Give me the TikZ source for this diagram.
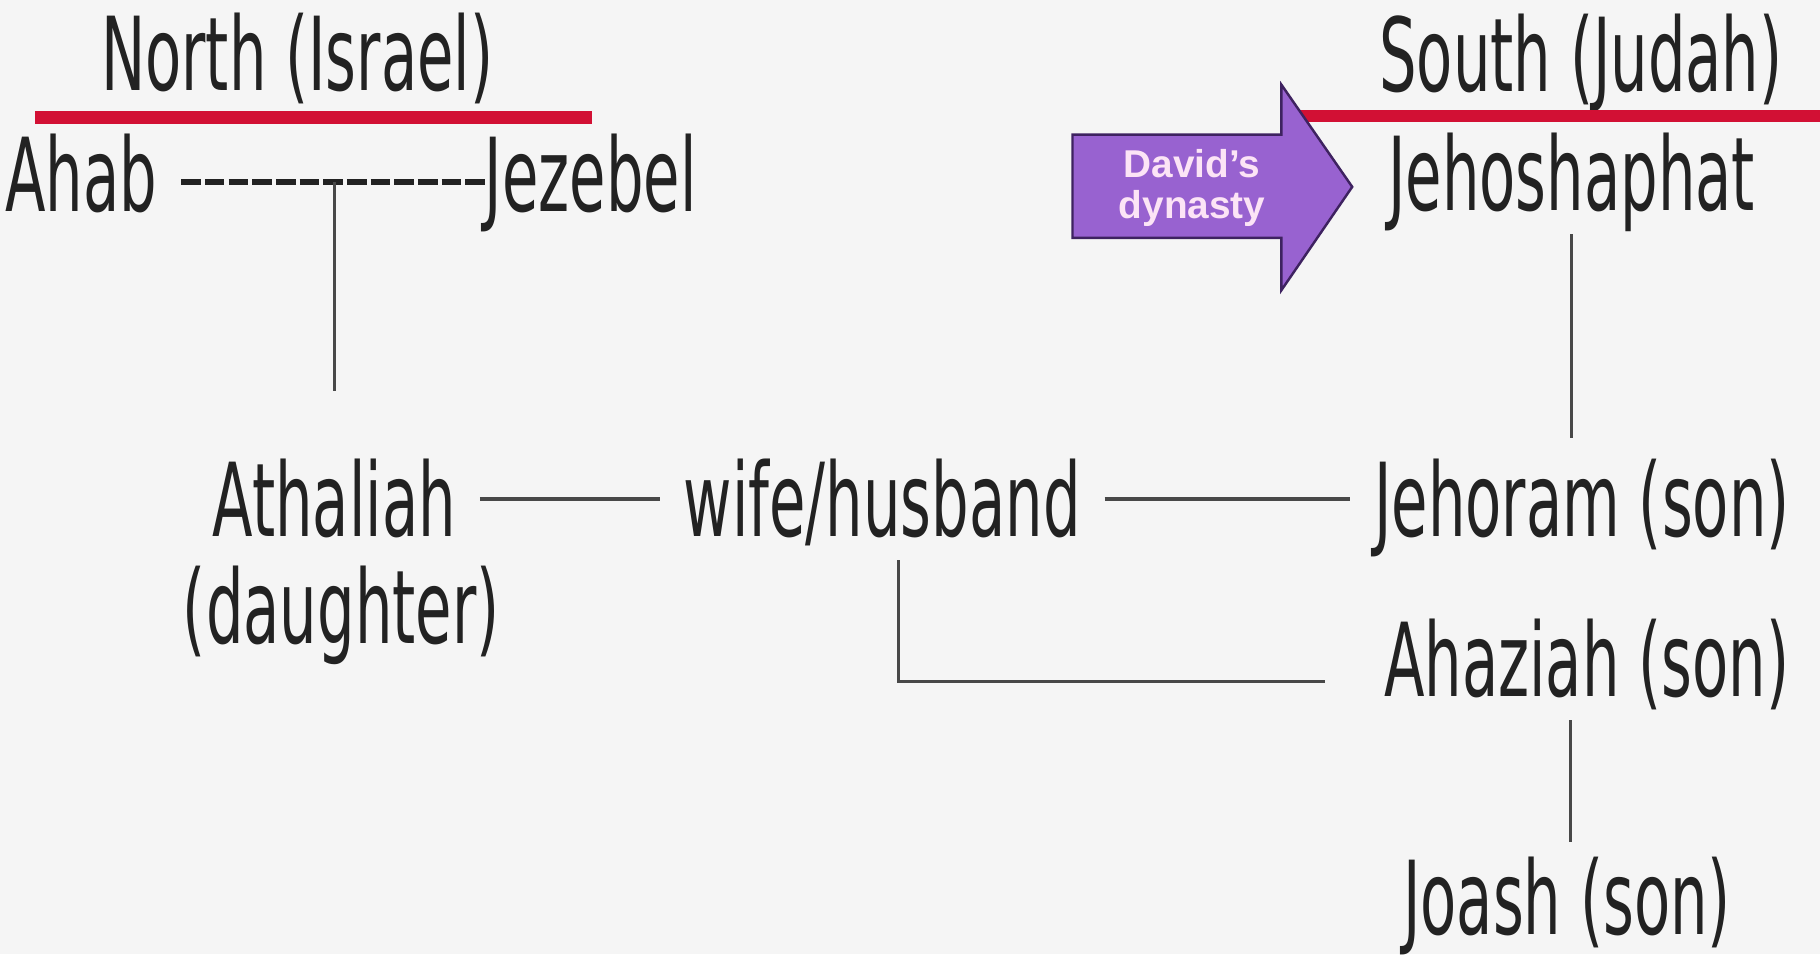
\documentclass[tikz,border=0pt]{standalone}
\usepackage{fontspec}
\setmainfont{DejaVu Sans}[FakeStretch=0.58]
\newfontfamily\arrowfont{Liberation Sans}
\definecolor{ink}{RGB}{34,34,34}
\definecolor{wire}{RGB}{72,72,72}
\definecolor{rulered}{RGB}{210,16,52}
\definecolor{dyn}{RGB}{152,98,208}
\definecolor{dynline}{RGB}{62,34,96}
\definecolor{dyntext}{RGB}{252,228,246}
\definecolor{paper}{RGB}{245,245,245}

\begin{document}
\begin{tikzpicture}[x=0.01cm, y=-0.01cm,
  who/.style={font=\fontsize{25}{30}\selectfont, text=ink, inner sep=0.2cm, text height=18.2pt, text depth=0pt, anchor=base},
  kin/.style={draw=wire, line width=0.8pt},
  wed/.style={draw=ink, line width=1.4pt, dash pattern=on 4.8pt off 1pt},
  redrule/.style={draw=rulered, line width=3.1pt}]
  \useasboundingbox (0,0) rectangle (1568,822);
  \fill[paper] (0,0) rectangle (1568,822);

  \node[who] (north) at (256,78) {North (Israel)};
  \node[who] (south) at (1362,79) {South (Judah)};
  \draw[redrule] (30,101) -- (510,101);
  \draw[redrule] (1110,100) -- (1568,100);

  \draw[fill=dyn, draw=dynline, line width=0.6pt] (924,116) -- (1104,116) -- (1104,73) -- (1165,161)
    -- (1104,250) -- (1104,205) -- (924,205) -- cycle;
  \node[font=\arrowfont\bfseries\fontsize{9.5}{10.2}\selectfont, text=dyntext, align=center] (dav) at (1027,162) {David’s\\dynasty};

  \node[who] (ahab) at (70,182) {Ahab};
  \node[who] (jez) at (509,182) {Jezebel};
  \node[who] (jehosh) at (1354,181) {Jehoshaphat};
  \node[who] (ath) at (288,462) {Athaliah};
  \node[who] (dau) at (294,554) {(daughter)};
  \node[who] (wife) at (760,462) {wife/husband};
  \node[who] (jehoram) at (1363,462) {Jehoram (son)};
  \node[who] (ahaziah) at (1367,600) {Ahaziah (son)};
  \node[who] (joash) at (1350,805) {Joash (son)};

  \draw[wed] ([yshift=-0.07cm]ahab.east) -- ([yshift=-0.07cm]ahab.east -| jez.text);
  \coordinate (tee) at ([yshift=-0.07cm]ahab.east -| ath.north);
  \draw[kin, shorten >=0.4cm] (tee) -- (tee |- ath.north);
  \draw[kin] (ath.east) -- (wife.west);
  \draw[kin] (wife.east) -- (jehoram.west);
  \draw[kin, shorten >=0.3cm] ([xshift=0.14cm]wife.south) |- ([yshift=-0.19cm]ahaziah.west);
  \draw[kin] (jehosh.south) -- (jehosh.south |- jehoram.north);
  \draw[kin, shorten >=-0.05cm] ([xshift=0.03cm]joash.north |- ahaziah.south) -- ([xshift=0.03cm]joash.north);
\end{tikzpicture}
\end{document}
